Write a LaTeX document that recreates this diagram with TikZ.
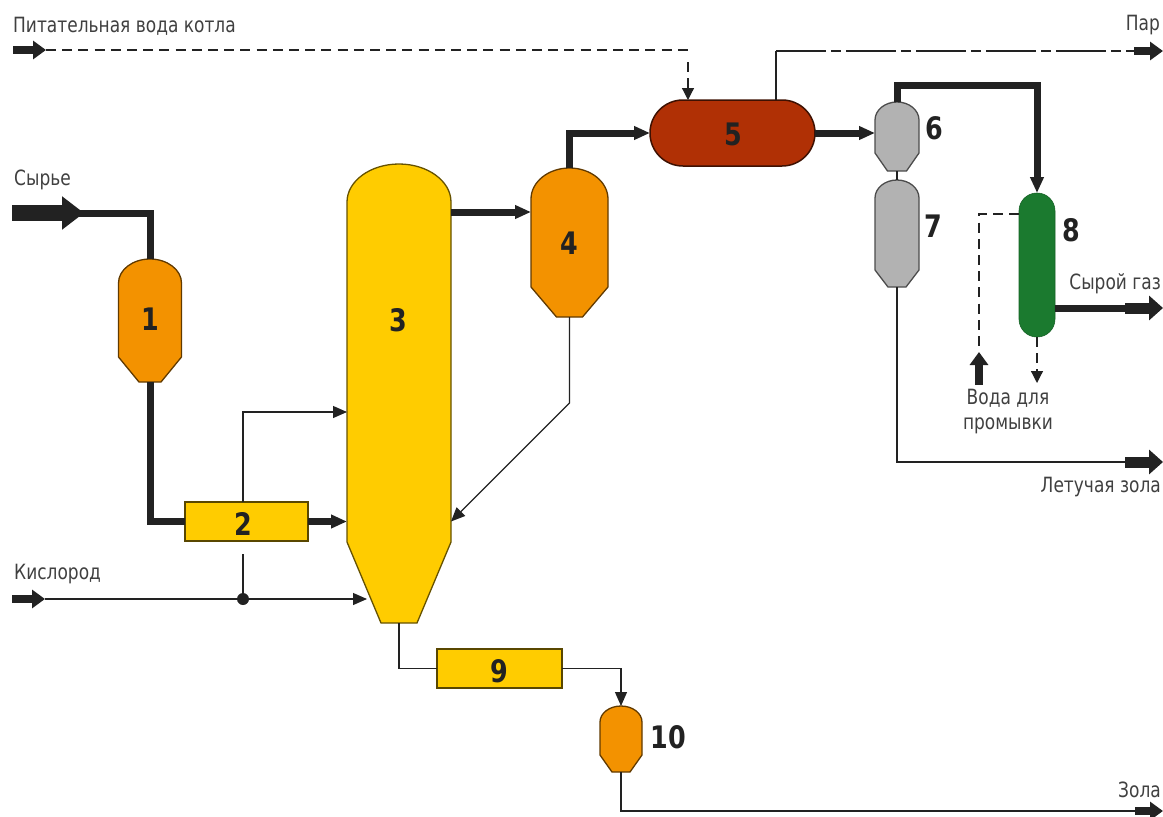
\documentclass[tikz,border=0pt]{standalone}
\usepackage{fontspec}
\setmainfont[FakeStretch=.81]{DejaVu Sans}
\newfontfamily\numfont[FakeStretch=.82]{DejaVu Sans}
\usetikzlibrary{arrows.meta,positioning}
\definecolor{orangefill}{HTML}{F39200}
\definecolor{yellowfill}{HTML}{FFCC00}
\definecolor{redfill}{HTML}{B03005}
\definecolor{grayfill}{HTML}{B2B2B2}
\definecolor{greenfill}{HTML}{1B7A2F}
\definecolor{ink}{HTML}{222222}
\newcommand{\vessel}[9]{%
  \pgfmathsetmacro\vcx{(#3+#4)/2}
  \pgfmathsetmacro\vhw{(#4-#3)/2}
  \draw[#2] (#3,#6) .. controls (#3,{#6-.55*(#6-#5)}) and ({\vcx-.55*\vhw},#5) .. (\vcx,#5)
    .. controls ({\vcx+.55*\vhw},#5) and (#4,{#6-.55*(#6-#5)}) .. (#4,#6)
    -- (#4,#7) -- ({\vcx+#9},#8) -- ({\vcx-#9},#8) -- (#3,#7) -- cycle;
  \node[hull, minimum width={(#4-#3)*1pt}, minimum height={(#8-#5)*1pt}] (#1) at (\vcx,{(#5+#8)/2}) {};
}
\begin{document}
\begin{tikzpicture}[
  x=1pt, y=-1pt,
  hull/.style={inner sep=0pt, outer sep=0pt},
  orangev/.style={draw=orangefill!40!black, fill=orangefill, line width=1.3pt},
  yellowv/.style={draw=yellowfill!40!black, fill=yellowfill, line width=1.3pt},
  grayv/.style={draw=black!70, fill=grayfill, line width=1.3pt},
  unit/.style={draw=yellowfill!35!black, fill=yellowfill, line width=1.3pt, inner sep=0pt, outer sep=0pt},
  caps/.style={draw=redfill!35!black, fill=redfill, line width=1.5pt, inner sep=0pt, outer sep=0pt,
               minimum width=165pt, minimum height=66pt, rounded corners=32.9pt},
  scrub/.style={draw=greenfill!80!black, fill=greenfill, line width=.6pt, inner sep=0pt, outer sep=0pt,
               minimum width=36pt, minimum height=144pt, rounded corners=17.9pt},
  pipe/.style={draw=ink, line width=1.2pt},
  pipear/.style={pipe, -{Triangle[length=14pt,width=12pt]}},
  fat/.style={draw=ink, line width=7pt},
  fatar/.style={fat, -{Triangle[length=16pt,width=13pt]}},
  dashl/.style={draw=ink, line width=1.2pt, dash pattern=on 10pt off 6.2pt},
  dashar/.style={dashl, -{Triangle[length=12pt,width=12pt]}},
  dashdot/.style={draw=ink, line width=1.2pt, dash pattern=on 50pt off 5pt on 10pt off 5pt},
  stub/.style={draw=ink, line width=8.5pt, -{Triangle[length=13pt,width=18pt]}},
  bigstub/.style={draw=ink, line width=11pt, -{Triangle[length=14pt,width=24pt]}},
  feedstub/.style={draw=ink, line width=16pt, -{Triangle[length=22pt,width=32pt]}},
  lbl/.style={font=\fontsize{21}{25}\selectfont, text=black!75, inner sep=0pt, align=center},
  num/.style={font=\fontsize{31}{32}\numfont\bfseries, text=ink, inner sep=0pt}
]
\useasboundingbox (0,0) rectangle (1163,817);

\vessel{v1}{orangev}{118.5}{181.5}{259}{283}{357}{382}{11}
\vessel{v3}{yellowv}{347}{451}{164}{202}{542}{623}{18}
\vessel{v4}{orangev}{531}{608}{168}{199}{287}{317}{13}
\vessel{v6}{grayv}{875}{919}{102}{120}{153}{171}{9.5}
\vessel{v7}{grayv}{875}{919}{180}{198}{270}{287}{9}
\vessel{v10}{orangev}{600}{642}{706}{722}{755}{772}{9}
\node[unit, minimum width=123pt, minimum height=39pt] (b2) at (246.5,521.5) {};
\node[unit, minimum width=125pt, minimum height=39pt] (b9) at (499.5,668.5) {};
\node[caps] (v5) at (732.5,133) {};
\node[scrub] (v8) at (1037,265) {};

\node[num] (n1) at (150,319) {1};
\node[num] (n2) at (243,524) {2};
\node[num] (n3) at (398,320) {3};
\node[num] (n4) at (569,243) {4};
\node[num] (n5) at (733,134) {5};
\node[num] (n6) at (934,128) {6};
\node[num] (n7) at (933,226) {7};
\node[num] (n8) at (1071,230) {8};
\node[num] (n9) at (499,671) {9};
\node[num] (n10) at (668,737) {10};

\node[lbl, anchor=west] (water) at (13,26) {Питательная вода котла};
\node[lbl, anchor=east] (steam) at (1160,25) {Пар};
\node[lbl, anchor=west] (feed) at (14,180) {Сырье};
\node[lbl, anchor=west] (oxy) at (14,574) {Кислород};
\node[lbl, anchor=east] (gas) at (1161,284) {Сырой газ};
\node[lbl, anchor=east] (fly) at (1161,487) {Летучая зола};
\node[lbl, anchor=east] (ash) at (1161,790) {Зола};
\node[lbl] (wash) at (1008,412) {Вода для\\промывки};

\coordinate (wa) at (13,50);
\coordinate (wb) at (46,50);
\coordinate (wc) at (688,50);
\draw[stub] (wa) -- (wb);
\draw[dashl] (wb) -- (wc);
\draw[dashar] (688,62) -- (688,100);

\coordinate (sa) at (776,51);
\coordinate (sb) at (1134,51);
\coordinate (sc) at (1163,51);
\draw[pipe] (776,100) -- (sa);
\draw[dashdot] (sa) -- (sb);
\draw[stub] (sb) -- (sc);

\coordinate (fa) at (12,213);
\coordinate (fb) at (84,213);
\coordinate (fc) at (70,213);
\draw[feedstub] (fa) -- (fb);
\draw[fat] (fc) -| (v1.north);
\draw[fat] (v1.south) |- (b2.west);
\draw[fatar] (b2.east) -- (b2.east -| v3.west);
\coordinate (od) at (243,599);
\draw[pipear] (od |- b2.north) -- (od |- 0,412) -- (v3.west |- 0,412);

\coordinate (oa) at (12,599);
\coordinate (ob) at (45,599);
\coordinate (oc) at (367,599);
\coordinate (oe) at (243,554);
\draw[stub] (oa) -- (ob);
\draw[pipear] (ob) -- (oc);
\draw[pipe] (oe) -- (od);
\fill[ink] (od) circle (6);

\draw[fatar] (v3.east |- 0,212) -- (v4.west |- 0,212);
\draw[fatar] (v4.north) |- (v5.west);
\draw[pipear] (v4.south) -- (v4.south |- 0,403) -- (v3.east |- b2.east);
\draw[fatar] (v5.east) -- (v5.east -| v6.west);
\draw[fatar] (v6.north) -- (v6.north |- 0,85) -| (v8.north);
\draw[pipe] (v6.south) -- (v7.north);

\coordinate (fly2) at (1125,462);
\coordinate (fly3) at (1163,462);
\draw[pipe] (v7.south) |- (fly2);
\draw[bigstub] (fly2) -- (fly3);

\coordinate (gas1) at (1125,308);
\coordinate (gas2) at (1163,308);
\draw[fat] (v8.east |- gas1) -- (gas1);
\draw[bigstub] (gas1) -- (gas2);

\coordinate (wash1) at (979,214);
\coordinate (wash2) at (979,352);
\coordinate (wash3) at (979,385);
\draw[dashl] (v8.west |- wash1) -- (wash1) -- (wash2);
\draw[stub] (wash3) -- (wash2);
\draw[dashar] (v8.south) -- (1037,383);

\draw[pipe] (v3.south |- 0,623) |- (b9.west);
\draw[pipear] (b9.east) -| (v10.north);

\coordinate (ash2) at (1135,811);
\coordinate (ash3) at (1163,811);
\draw[pipe] (v10.south) |- (ash2);
\draw[stub] (ash2) -- (ash3);
\end{tikzpicture}
\end{document}
